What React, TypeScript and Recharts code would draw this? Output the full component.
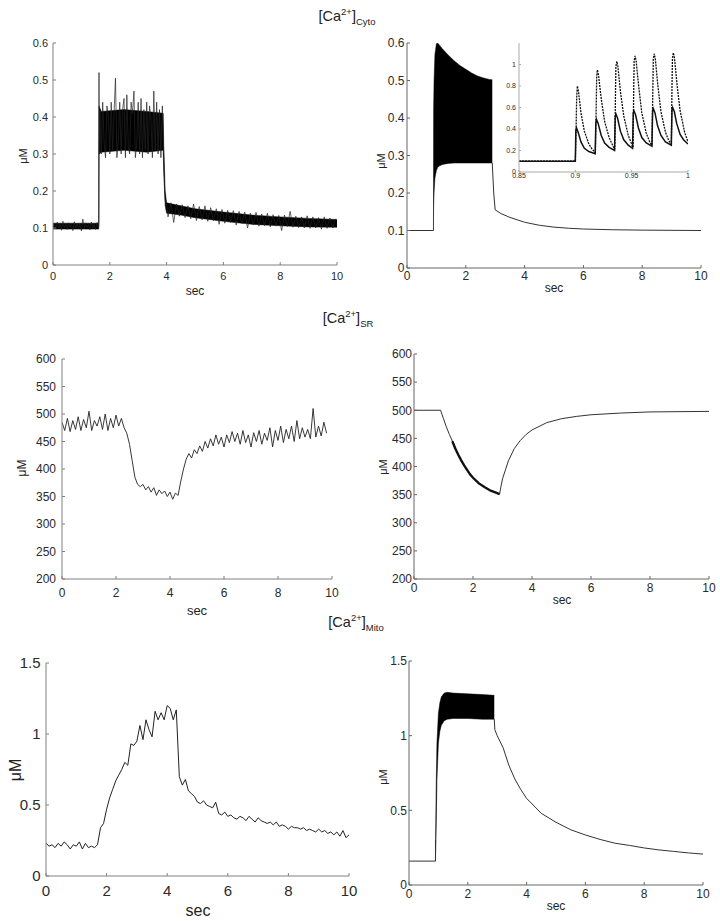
import React from 'react';
import { ComposedChart, Line, Area, XAxis, YAxis } from 'recharts';

const FONT = '"Liberation Sans", Arial, sans-serif';

type Pt = { t: number; v: number };
type Band = { t: number; lo: number; hi: number };

// ---- [Ca2+] cyto, experiment (top left) ----
const cytoExpBaseline = [0.104, 0.113, 0.097, 0.116, 0.1, 0.111, 0.094, 0.118, 0.099, 0.112, 0.096, 0.114, 0.102, 0.109, 0.093, 0.117, 0.1, 0.113, 0.097, 0.111, 0.092, 0.124, 0.098, 0.114, 0.101, 0.11, 0.095, 0.116, 0.099, 0.112, 0.096, 0.115, 0.103];
const cytoExpJumpT = [1.615, 1.62, 1.625];
const cytoExpJumpV = [0.104, 0.52, 0.3];
const cytoExpPlateau = [0.42, 0.3, 0.44, 0.33, 0.29, 0.43, 0.4, 0.3, 0.44, 0.31, 0.41, 0.505, 0.29, 0.34, 0.44, 0.3, 0.42, 0.45, 0.29, 0.46, 0.32, 0.3, 0.44, 0.41, 0.47, 0.29, 0.33, 0.44, 0.3, 0.45, 0.29, 0.42, 0.31, 0.44, 0.3, 0.43, 0.39, 0.29, 0.47, 0.31, 0.44, 0.3, 0.42, 0.29, 0.43, 0.3];
const cytoExpDropT = [3.93, 3.96, 4.0];
const cytoExpDropV = [0.2, 0.17, 0.165];
const cytoExpTail = [0.13, 0.168, 0.115, 0.165, 0.132, 0.163, 0.128, 0.16, 0.125, 0.165, 0.12, 0.158, 0.122, 0.16, 0.118, 0.155, 0.12, 0.152, 0.11, 0.15, 0.113, 0.148, 0.115, 0.147, 0.108, 0.145, 0.112, 0.143, 0.1, 0.14, 0.108, 0.142, 0.105, 0.138, 0.106, 0.14, 0.103, 0.136, 0.105, 0.134, 0.093, 0.135, 0.104, 0.145, 0.102, 0.132, 0.101, 0.13, 0.1, 0.133, 0.099, 0.13, 0.1, 0.128, 0.097, 0.13, 0.099, 0.127, 0.1, 0.125];
const cytoExpBandT = [0, 1.61, 1.62, 1.7, 2.5, 3.3, 3.88, 3.9, 3.95, 4.0, 4.5, 5, 6, 7, 8, 9, 10];
const cytoExpBandLo = [0.097, 0.097, 0.3, 0.305, 0.31, 0.305, 0.31, 0.25, 0.16, 0.14, 0.135, 0.128, 0.118, 0.11, 0.106, 0.103, 0.102];
const cytoExpBandHi = [0.113, 0.113, 0.43, 0.415, 0.42, 0.415, 0.41, 0.32, 0.2, 0.168, 0.16, 0.152, 0.143, 0.135, 0.13, 0.126, 0.123];

// ---- [Ca2+] cyto, model (top right) ----
const cytoModPreT = [0, 0.9];
const cytoModPreV = [0.1, 0.1];
const cytoModBandT = [0.9, 0.905, 0.92, 0.95, 1.0, 1.04, 1.1, 1.2, 1.4, 1.6, 1.8, 2.0, 2.2, 2.4, 2.6, 2.8, 2.9];
const cytoModBandLo = [0.1, 0.16, 0.2, 0.24, 0.26, 0.268, 0.272, 0.276, 0.279, 0.28, 0.28, 0.28, 0.28, 0.28, 0.28, 0.28, 0.28];
const cytoModBandHi = [0.1, 0.42, 0.5, 0.57, 0.598, 0.6, 0.595, 0.585, 0.568, 0.553, 0.54, 0.53, 0.52, 0.512, 0.507, 0.503, 0.502];
const cytoModPostT = [2.9, 2.95, 3.0, 3.2, 3.5, 4, 4.5, 5, 5.5, 6, 7, 8, 10];
const cytoModPostV = [0.28, 0.2, 0.155, 0.145, 0.135, 0.122, 0.114, 0.109, 0.106, 0.104, 0.102, 0.101, 0.1];

// inset: zoom of the first beats, 0.85-1 s
const insetSolidT = [0.85, 0.9, 0.9004, 0.901, 0.9025, 0.905, 0.908, 0.912, 0.9176, 0.9182, 0.9188, 0.9203, 0.923, 0.926, 0.93, 0.9348, 0.9354, 0.936, 0.9375, 0.94, 0.943, 0.947, 0.9508, 0.9514, 0.952, 0.9535, 0.956, 0.959, 0.963, 0.968, 0.9686, 0.9692, 0.9707, 0.973, 0.976, 0.98, 0.9852, 0.9858, 0.9864, 0.9879, 0.99, 0.993, 0.996, 1.0];
const insetSolidV = [0.1, 0.1, 0.38, 0.41, 0.37, 0.28, 0.22, 0.19, 0.17, 0.46, 0.49, 0.45, 0.34, 0.27, 0.23, 0.2, 0.51, 0.54, 0.5, 0.38, 0.3, 0.25, 0.22, 0.55, 0.57, 0.53, 0.41, 0.32, 0.27, 0.24, 0.57, 0.59, 0.55, 0.43, 0.34, 0.28, 0.25, 0.58, 0.6, 0.56, 0.45, 0.35, 0.3, 0.26];
const insetDotT = [0.85, 0.9, 0.9005, 0.9012, 0.9018, 0.9028, 0.905, 0.908, 0.912, 0.915, 0.9178, 0.9185, 0.919, 0.9196, 0.9206, 0.923, 0.926, 0.93, 0.9335, 0.935, 0.9356, 0.936, 0.9368, 0.9378, 0.94, 0.943, 0.947, 0.95, 0.9512, 0.9518, 0.9522, 0.953, 0.954, 0.9563, 0.959, 0.963, 0.966, 0.968, 0.9688, 0.9692, 0.97, 0.971, 0.9733, 0.976, 0.98, 0.983, 0.9852, 0.9858, 0.9862, 0.987, 0.988, 0.9903, 0.993, 0.997, 1.0];
const insetDotV = [0.1, 0.1, 0.3, 0.7, 0.8, 0.75, 0.55, 0.38, 0.26, 0.21, 0.18, 0.6, 0.9, 0.95, 0.9, 0.68, 0.47, 0.32, 0.24, 0.21, 0.7, 0.98, 1.03, 0.98, 0.75, 0.52, 0.34, 0.26, 0.23, 0.75, 1.03, 1.08, 1.03, 0.79, 0.55, 0.36, 0.28, 0.25, 0.78, 1.05, 1.1, 1.05, 0.8, 0.56, 0.37, 0.29, 0.26, 0.8, 1.06, 1.11, 1.06, 0.81, 0.57, 0.37, 0.28];

// ---- [Ca2+] SR ----
const srExp = [
  485, 470, 492, 468, 488, 472, 495, 470, 490, 475,
  505, 470, 488, 478, 495, 472, 500, 470, 492, 475,
  498, 478, 492, 475, 465, 445, 415, 385, 372, 368,
  372, 362, 368, 358, 366, 352, 362, 355, 360, 350,
  358, 345, 356, 352, 378, 400, 418, 428, 420, 435,
  428, 442, 432, 450, 438, 455, 442, 462, 445, 458,
  440, 462, 448, 468, 450, 465, 445, 470, 448, 462,
  440, 466, 450, 470, 445, 465, 452, 475, 440, 470,
  452, 478, 448, 472, 455, 478, 450, 488, 455, 475,
  458, 472, 455, 510, 458, 478, 460, 485, 465,
];
const srModT = [0, 0.9, 1.0, 1.1, 1.2, 1.3, 1.4, 1.5, 1.6, 1.7, 1.8, 1.9, 2.0, 2.2, 2.4, 2.6, 2.8, 2.9, 2.95, 3.0, 3.1, 3.2, 3.4, 3.6, 3.8, 4.0, 4.5, 5.0, 5.5, 6.0, 7.0, 8.0, 10];
const srModV = [500, 500, 485, 470, 457, 445, 432, 421, 411, 402, 394, 386, 380, 370, 363, 357, 353, 351, 365, 378, 394, 410, 432, 446, 457, 465, 478, 485, 489, 492, 495, 497, 498];

// ---- [Ca2+] mito ----
const mitoExp = [
  0.23, 0.21, 0.22, 0.2, 0.23, 0.21, 0.24, 0.22, 0.19, 0.22,
  0.21, 0.24, 0.19, 0.23, 0.2, 0.21, 0.2, 0.22, 0.34, 0.37,
  0.47, 0.55, 0.61, 0.67, 0.71, 0.75, 0.8, 0.78, 0.93, 0.92,
  0.95, 1.06, 0.96, 1.1, 1.03, 0.98, 1.16, 1.1, 1.15, 1.1,
  1.2, 1.18, 1.1, 1.17, 0.7, 0.64, 0.68, 0.6, 0.58, 0.56,
  0.52, 0.51, 0.53, 0.5, 0.49, 0.48, 0.52, 0.44, 0.43, 0.45,
  0.42, 0.43, 0.41, 0.4, 0.42, 0.41, 0.39, 0.42, 0.4, 0.38,
  0.41, 0.39, 0.38, 0.37, 0.38, 0.36, 0.38, 0.35, 0.36, 0.35,
  0.33, 0.35, 0.34, 0.34, 0.33, 0.34, 0.32, 0.33, 0.32, 0.31,
  0.33, 0.31, 0.32, 0.3, 0.31, 0.29, 0.31, 0.28, 0.32, 0.27,
  0.29,
];
const mitoModPreT = [0, 0.9, 0.9];
const mitoModPreV = [0.16, 0.16, 0.3];
const mitoModBandT = [0.9, 0.92, 0.95, 1.0, 1.05, 1.1, 1.2, 1.3, 1.5, 2.0, 2.5, 2.9];
const mitoModBandLo = [0.16, 0.35, 0.7, 0.95, 1.03, 1.07, 1.1, 1.11, 1.115, 1.115, 1.11, 1.11];
const mitoModBandHi = [0.16, 0.6, 0.95, 1.15, 1.22, 1.26, 1.285, 1.29, 1.285, 1.28, 1.275, 1.27];
const mitoModPostT = [2.9, 2.92, 3.0, 3.2, 3.4, 3.6, 3.8, 4.0, 4.5, 5.0, 5.5, 6.0, 6.5, 7.0, 7.5, 8.0, 8.5, 9.0, 9.5, 10];
const mitoModPostV = [1.11, 1.04, 1.0, 0.92, 0.8, 0.71, 0.64, 0.58, 0.48, 0.42, 0.37, 0.335, 0.305, 0.28, 0.265, 0.248, 0.235, 0.225, 0.215, 0.207];

const secTicks = [0, 2, 4, 6, 8, 10];

const seq = (t0: number, dt: number, vals: number[]): Pt[] =>
  vals.map((v, i) => ({ t: Math.round((t0 + i * dt) * 1000) / 1000, v }));
const pts = (ts: number[], vs: number[]): Pt[] => ts.map((t, i) => ({ t, v: vs[i] }));
const band = (ts: number[], lo: number[], hi: number[]): Band[] =>
  ts.map((t, i) => ({ t, lo: lo[i], hi: hi[i] }));

const cytoExpLine = [
  ...seq(0, 0.05, cytoExpBaseline),
  ...pts(cytoExpJumpT, cytoExpJumpV),
  ...seq(1.65, 0.05, cytoExpPlateau),
  ...pts(cytoExpDropT, cytoExpDropV),
  ...seq(4.05, 0.1, cytoExpTail),
];
const srModAll = pts(srModT, srModV);

interface FrameProps {
  x0: number; x1: number; y0: number; y1: number;
  xDomain: [number, number]; yDomain: [number, number];
  xTicks: number[]; yTicks: number[];
  font: number; xGap: number; yGap: number;
  axis?: string; tick?: number;
  children: React.ReactNode;
}

function Frame({ x0, x1, y0, y1, xDomain, yDomain, xTicks, yTicks, font, xGap, yGap, axis = '#808080', tick = 3, children }: FrameProps) {
  const padL = 70, padT = 10, padR = 16, padB = 36;
  const w = x1 - x0 + padL + padR;
  const h = y1 - y0 + padT + padB;
  const tickStyle = { fill: '#2a2a2a', fontSize: font, fontFamily: FONT };
  return (
    <div style={{ position: 'absolute', left: x0 - padL, top: y0 - padT }}>
      <ComposedChart width={w} height={h} margin={{ top: padT, right: padR, bottom: 0, left: 0 }}>
        <XAxis type="number" dataKey="t" domain={xDomain} ticks={xTicks} interval={0} height={padB}
          allowDataOverflow stroke={axis} tickSize={-tick} tickMargin={xGap + tick} tick={tickStyle} />
        <YAxis type="number" domain={yDomain} ticks={yTicks} interval={0} width={padL}
          allowDataOverflow stroke={axis} tickSize={-tick} tickMargin={yGap + tick} tick={tickStyle} />
        {children}
      </ComposedChart>
    </div>
  );
}

const trace = (data: Pt[], color = '#1a1a1a', width = 1, dash?: string) => (
  <Line data={data} dataKey="v" type="linear" stroke={color} strokeWidth={width} strokeDasharray={dash}
    dot={false} activeDot={false} isAnimationActive={false} />
);
const fill = (data: Band[]) => (
  <Area data={data} dataKey={(d: Band) => [d.lo, d.hi]} type="linear" stroke="#000" strokeWidth={0.5}
    fill="#000" fillOpacity={1} dot={false} activeDot={false} isAnimationActive={false} />
);

function Title({ x, y, sub }: { x: number; y: number; sub: string }) {
  return (
    <text x={x} y={y} textAnchor="middle" fontSize={14.5} fill="#222">
      [Ca<tspan dy={-6} fontSize={9.5}>2+</tspan><tspan dy={6}>]</tspan>
      <tspan dy={4} fontSize={9.5}>{sub}</tspan>
    </text>
  );
}

function Label({ x, y, size, children, rot }: { x: number; y: number; size: number; children: string; rot?: boolean }) {
  return (
    <text transform={`translate(${x},${y})${rot ? ' rotate(-90)' : ''}`} textAnchor="middle"
      dominantBaseline="central" fontSize={size} fill="#222">{children}</text>
  );
}

export default function App() {
  return (
    <div style={{ position: 'absolute', left: 0, top: 0, width: 720, height: 921, background: '#fff', overflow: 'hidden', fontFamily: FONT }}>
      <Frame x0={53} x1={337} y0={43} y1={265} xDomain={[0, 10]} yDomain={[0, 0.6]} xTicks={secTicks}
        yTicks={[0, 0.1, 0.2, 0.3, 0.4, 0.5, 0.6]} font={11} xGap={7} yGap={5}>
        {fill(band(cytoExpBandT, cytoExpBandLo, cytoExpBandHi))}
        {trace(cytoExpLine, '#222', 0.7)}
      </Frame>

      <Frame x0={407} x1={701} y0={43} y1={268} xDomain={[0, 10]} yDomain={[0, 0.6]} xTicks={secTicks}
        yTicks={[0, 0.1, 0.2, 0.3, 0.4, 0.5, 0.6]} font={12} xGap={3} yGap={2.5} axis="#666">
        {fill(band(cytoModBandT, cytoModBandLo, cytoModBandHi))}
        {trace(pts(cytoModPreT, cytoModPreV), '#333', 1)}
        {trace(pts(cytoModPostT, cytoModPostV), '#333', 1)}
      </Frame>

      <Frame x0={519} x1={688} y0={43} y1={172} xDomain={[0.85, 1]} yDomain={[0, 1.2]} xTicks={[0.85, 0.9, 0.95, 1]}
        yTicks={[0, 0.2, 0.4, 0.6, 0.8, 1]} font={7} xGap={1} yGap={3} axis="#aaa" tick={2}>
        {trace(pts(insetDotT, insetDotV), '#111', 1.3, '2 1')}
        {trace(pts(insetSolidT, insetSolidV), '#111', 1.5)}
      </Frame>

      <Frame x0={62} x1={332} y0={359} y1={579} xDomain={[0, 10]} yDomain={[200, 600]} xTicks={secTicks}
        yTicks={[200, 250, 300, 350, 400, 450, 500, 550, 600]} font={12} xGap={9} yGap={6}>
        {trace(seq(0, 0.1, srExp), '#222', 0.9)}
      </Frame>

      <Frame x0={414} x1={709} y0={354} y1={579} xDomain={[0, 10]} yDomain={[200, 600]} xTicks={secTicks}
        yTicks={[200, 250, 300, 350, 400, 450, 500, 550, 600]} font={12} xGap={4} yGap={2} axis="#666">
        {trace(srModAll, '#333', 1)}
        {trace(srModAll.filter((p) => p.t >= 1.3 && p.t <= 2.9), '#111', 2.4)}
      </Frame>

      <Frame x0={46} x1={349} y0={663} y1={876} xDomain={[0, 10]} yDomain={[0, 1.5]} xTicks={secTicks}
        yTicks={[0, 0.5, 1, 1.5]} font={15} xGap={9.5} yGap={5.5}>
        {trace(seq(0, 0.1, mitoExp), '#222', 1)}
      </Frame>

      <Frame x0={409} x1={703} y0={661} y1={885} xDomain={[0, 10]} yDomain={[0, 1.5]} xTicks={secTicks}
        yTicks={[0, 0.5, 1, 1.5]} font={12} xGap={4} yGap={2} axis="#666">
        {fill(band(mitoModBandT, mitoModBandLo, mitoModBandHi))}
        {trace(pts(mitoModPreT, mitoModPreV), '#333', 1)}
        {trace(pts(mitoModPostT, mitoModPostV), '#333', 1)}
      </Frame>

      <svg width={720} height={921} style={{ position: 'absolute', left: 0, top: 0, pointerEvents: 'none' }} fontFamily={FONT}>
        <Title x={347} y={21} sub="Cyto" />
        <Title x={348} y={323} sub="SR" />
        <Title x={356} y={627} sub="Mito" />

        <Label x={195} y={291} size={12}>sec</Label>
        <Label x={554} y={288} size={12}>sec</Label>
        <Label x={197} y={610} size={13}>sec</Label>
        <Label x={562} y={600} size={12}>sec</Label>
        <Label x={198} y={910} size={16}>sec</Label>
        <Label x={556} y={906} size={12}>sec</Label>

        <Label x={23} y={156} size={11} rot>μM</Label>
        <Label x={381} y={161} size={11} rot>μM</Label>
        <Label x={22} y={468} size={12} rot>μM</Label>
        <Label x={383} y={467} size={11} rot>μM</Label>
        <Label x={15} y={770} size={16} rot>μM</Label>
        <Label x={383} y={777} size={11} rot>μM</Label>
      </svg>
    </div>
  );
}
